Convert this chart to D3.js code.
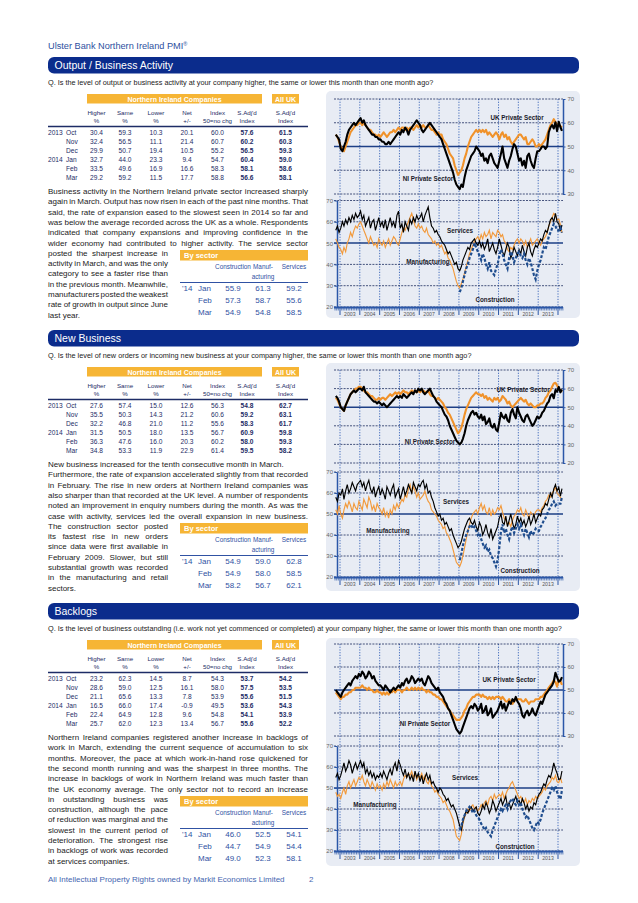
<!DOCTYPE html>
<html><head><meta charset="utf-8">
<script src="https://cdn.jsdelivr.net/npm/d3@7"></script>
<style>
body{margin:0;background:#fff;}
svg text{font-family:"Liberation Sans",Arial,Helvetica,sans-serif;}
</style></head>
<body><svg id="c" width="638" height="903"></svg>
<script>
// ---------------- DATA ----------------
const tableMonths = [["2013","Oct"],["","Nov"],["","Dec"],["2014","Jan"],["","Feb"],["","Mar"]];
const tableHeads = [["Higher","%"],["Same","%"],["Lower","%"],["Net","+/-"],["Index","50=no chg"],["S.Adj'd","Index"],["S.Adj'd","Index"]];
const sectorHeads = [["Construction",""],["Manuf-","acturing"],["Services",""]];
const sectorMonths = ["Jan","Feb","Mar"];
const yearLabels = ["2003","2004","2005","2006","2007","2008","2009","2010","2011","2012","2013"];

const table_output = [
 ["30.4","59.3","10.3","20.1","60.0","57.6","61.5"],
 ["32.4","56.5","11.1","21.4","60.7","60.2","60.3"],
 ["29.9","50.7","19.4","10.5","55.2","56.5","59.3"],
 ["32.7","44.0","23.3","9.4","54.7","60.4","59.0"],
 ["33.5","49.6","16.9","16.6","58.3","58.1","58.6"],
 ["29.2","59.2","11.5","17.7","58.8","56.6","58.1"]];
const table_newbiz = [
 ["27.6","57.4","15.0","12.6","56.3","54.8","62.7"],
 ["35.5","50.3","14.3","21.2","60.6","59.2","63.1"],
 ["32.2","46.8","21.0","11.2","55.6","58.3","61.7"],
 ["31.5","50.5","18.0","13.5","56.7","60.9","59.8"],
 ["36.3","47.6","16.0","20.3","60.2","58.0","59.3"],
 ["34.8","53.3","11.9","22.9","61.4","59.5","58.2"]];
const table_backlogs = [
 ["23.2","62.3","14.5","8.7","54.3","53.7","54.2"],
 ["28.6","59.0","12.5","16.1","58.0","57.5","53.5"],
 ["21.1","65.6","13.3","7.8","53.9","55.6","51.5"],
 ["16.5","66.0","17.4","-0.9","49.5","53.6","54.3"],
 ["22.4","64.9","12.8","9.6","54.8","54.1","53.9"],
 ["25.7","62.0","12.3","13.4","56.7","55.6","52.2"]];

const sector_output = [["55.9","61.3","59.2"],["57.3","58.7","55.6"],["54.9","54.8","58.5"]];
const sector_newbiz = [["54.9","59.0","62.8"],["54.9","58.0","58.5"],["58.2","56.7","62.1"]];
const sector_backlogs = [["46.0","52.5","54.1"],["44.7","54.9","54.4"],["49.0","52.3","58.1"]];

// monthly series, Oct 2002 - Mar 2014 (construction: Jan 2009 - Mar 2014)
const output_ni = [55,54,53,
 49,48,50,52,55,57,58,59,60,59,60,61,
 62,60,61,59,58,57,56,55,55,54,54,53,
 53,52,52,51,51,52,51,52,53,54,55,56,
 55,57,56,58,57,55,57,58,59,60,61,60,
 59,57,56,57,58,59,60,59,58,57,56,55,
 54,53,51,49,47,45,43,41,39,36,34,33,
 32,34,33,37,40,42,44,46,47,48,50,49,
 48,46,47,44,45,43,46,47,45,43,42,41,
 44,47,50,45,43,41,44,46,49,51,50,47,
 44,45,42,44,41,46,47,44,42,41,45,48,
 48,49,50,50,49,50,56,58,59,57.6,60.2,56.5,
 60.4,58.1,56.6];
const output_uk = [55,54,52,
 50,49,48,50,52,54,56,57,58,59,59,60,
 60,59,60,59,58,57,57,56,55,55,54,55,
 54,55,56,55,54,55,56,56,57,56,57,58,
 57,58,58,57,58,57,58,58,57,58,59,58,
 59,58,59,58,58,59,58,57,57,56,55,56,
 55,55,53,52,51,49,47,46,45,42,40,38,
 39,40,42,45,47,50,52,54,55,56,57,56,
 57,56,57,56,57,55,56,55,54,55,56,55,
 53,55,56,54,55,53,54,52,51,52,53,54,
 55,55,54,53,54,51,51,52,53,52,50,50,
 51,50,51,52,53,55,57,59,60,61.5,60.3,59.3,
 59.0,58.6,58.1];
const output_services = [56,58,55,
 57,60,58,61,59,62,60,63,61,64,62,63,
 65,61,63,58,60,62,57,60,61,56,59,62,
 58,60,57,61,56,59,62,58,60,57,63,65,
 57,59,55,60,58,56,61,59,62,60,63,61,
 62,64,60,63,65,67,62,58,57,55,56,54,
 53,51,50,49,47,45,46,44,42,40,41,38,
 37,39,42,44,46,48,47,50,51,52,50,49,
 51,48,50,47,49,52,46,48,50,47,45,48,
 52,49,46,44,47,50,48,43,45,48,46,44,
 47,45,49,46,44,48,50,46,44,47,49,48,
 50,52,51,54,56,55,58,61,62,60,64,60,
 59.2,55.6,58.5];
const output_manufacturing = [52,50,48,
 47,45,48,46,50,52,55,53,56,58,57,59,
 60,58,56,54,52,50,53,51,49,50,48,52,
 50,49,51,48,50,52,49,51,53,52,50,49,
 52,55,57,56,58,60,62,64,61,58,57,59,
 57,58,56,55,57,54,53,52,50,51,49,50,
 48,49,47,45,46,43,42,40,38,35,32,30,
 29,31,33,36,39,42,45,47,49,51,52,53,
 51,54,52,55,53,54,56,52,55,54,53,56,
 55,53,54,51,50,47,46,48,47,49,51,52,
 50,52,51,49,51,48,50,52,49,50,51,52,
 50,49,51,52,53,55,58,60,62,64,63,61,
 61.3,58.7,54.8];
const output_construction = [
 27,29,32,35,38,40,43,45,47,50,48,46,
 44,42,45,43,40,38,41,37,36,35,38,40,
 44,47,45,42,40,38,43,46,44,41,43,45,
 46,44,43,45,42,40,43,41,38,35,33,37,
 40,42,45,48,47,50,53,55,57,59,58,56,
 55.9,57.3,54.9];

const newbiz_ni = [56,55,53,
 50,49,48,51,53,55,57,58,59,58,59,60,
 60,59,61,58,57,56,55,54,53,53,52,53,
 52,51,52,51,50,51,52,53,54,55,56,55,
 56,55,57,56,55,56,57,58,57,59,58,60,
 59,60,58,57,58,59,60,58,56,55,53,52,
 51,50,48,46,45,43,40,38,36,34,32,31,
 30,31,33,36,40,43,45,47,48,46,47,45,
 44,46,43,45,41,42,44,40,39,41,38,37,
 42,47,45,44,46,43,42,47,49,46,44,50,
 47,45,43,42,45,46,44,42,40,41,43,45,
 44,45,47,48,50,52,53,56,57,54.8,59.2,58.3,
 60.9,58.0,59.5];
const newbiz_uk = [55,54,52,
 50,49,48,51,53,55,57,58,59,60,60,61,
 61,60,59,58,58,57,56,56,55,54,54,55,
 54,55,55,54,55,56,57,56,57,58,57,58,
 57,58,59,58,58,57,58,59,58,59,58,59,
 58,59,59,58,58,59,57,56,56,55,54,55,
 54,53,52,50,49,47,46,44,42,40,38,36,
 37,39,42,46,49,51,53,55,56,57,58,57,
 57,56,57,55,56,54,55,54,53,55,54,55,
 53,54,56,55,54,52,53,51,50,51,52,53,
 54,55,54,53,54,52,51,52,51,50,50,51,
 51,52,52,53,55,56,58,59,61,62.7,63.1,61.7,
 59.8,59.3,58.2];
const newbiz_services = [58,56,60,
 59,62,57,61,64,60,62,65,63,61,64,65,
 66,63,65,61,64,66,62,60,63,58,61,63,
 59,62,60,57,63,61,59,62,64,58,60,62,
 57,60,63,59,61,64,62,60,65,63,61,64,
 63,65,66,62,64,60,61,58,56,53,51,49,
 50,47,48,45,46,44,42,43,40,38,36,34,
 35,37,40,43,45,47,48,46,45,47,44,42,
 46,44,40,42,45,41,39,43,38,40,42,44,
 48,50,46,45,49,44,47,50,46,43,45,49,
 46,48,45,47,44,46,49,45,47,50,46,48,
 50,49,52,53,55,54,57,60,58,62,64,61,
 62.8,58.5,62.1];
const newbiz_manufacturing = [52,50,54,
 50,48,52,55,53,56,54,51,55,53,52,56,
 54,52,57,55,53,58,56,52,54,51,55,53,
 52,50,53,49,51,48,52,50,54,52,55,53,
 55,57,56,59,58,62,64,60,63,61,58,60,
 57,58,59,61,58,56,55,52,51,50,49,47,
 46,45,43,44,41,40,38,36,33,30,27,26,
 25,27,30,34,38,42,45,48,50,51,52,50,
 53,55,52,54,51,50,53,49,52,50,51,53,
 52,54,51,48,47,45,46,44,47,49,50,52,
 51,53,50,49,52,50,48,51,50,49,51,52,
 52,51,53,54,56,57,59,58,60,61,63,60,
 59.0,58.0,56.7];
const newbiz_construction = [
 28,31,35,38,40,42,44,45,43,44,42,40,
 41,38,36,34,35,32,33,30,29,27,25,28,
 34,42,45,41,43,40,38,42,44,41,43,45,
 43,45,42,40,43,41,39,42,40,41,43,42,
 42,44,45,47,48,50,52,53,55,56,54,55,
 54.9,54.9,58.2];

const backlogs_ni = [50,49,48,
 47,49,50,51,52,53,52,54,55,56,55,57,
 56,58,57,55,56,58,57,55,56,54,53,52,
 52,51,50,52,51,50,49,50,51,50,51,52,
 51,53,52,54,55,53,54,56,55,53,54,55,
 54,55,53,52,54,56,55,53,52,51,50,51,
 49,48,47,45,44,42,41,39,37,35,33,32,
 31,32,34,36,38,40,42,43,42,44,43,41,
 42,44,40,41,43,39,40,42,38,39,40,41,
 43,45,42,44,41,43,45,44,46,45,47,45,
 44,42,39,38,40,41,39,40,42,40,39,41,
 43,45,44,46,48,49,50,51,52,53.7,57.5,55.6,
 53.6,54.1,55.6];
const backlogs_uk = [49,48,47,
 46,47,47,48,48,49,49,50,50,51,51,51,
 51,52,51,51,50,51,50,50,49,49,50,49,
 49,48,49,48,49,48,49,49,50,49,50,50,
 50,49,50,50,51,50,50,51,50,51,50,51,
 50,51,50,50,49,50,49,49,48,48,47,47,
 46,46,45,44,43,42,41,40,39,38,37,37,
 37,38,39,41,42,44,45,46,47,47,48,48,
 48,47,48,47,47,46,47,46,47,46,47,47,
 47,46,47,46,45,45,46,45,44,45,46,46,
 46,46,45,45,46,45,44,45,45,45,46,46,
 46,47,47,48,49,50,51,52,53,54.2,53.5,51.5,
 54.3,53.9,52.2];
const backlogs_services = [55,57,54,
 56,59,62,58,60,63,61,57,60,62,59,61,
 63,60,62,57,59,56,58,55,57,54,56,55,
 57,55,58,56,54,57,59,56,60,62,58,63,
 61,58,56,59,55,57,54,56,53,58,55,57,
 53,56,52,55,57,54,56,52,53,51,50,48,
 50,49,47,46,44,45,43,41,42,40,38,35,
 32,30,34,37,39,38,40,41,39,40,41,38,
 37,39,42,40,43,41,38,40,44,42,39,41,
 43,45,42,44,46,41,43,40,42,44,46,43,
 44,42,45,43,40,42,39,41,40,43,42,45,
 47,48,50,52,51,54,56,55,58,62,59,57,
 54.1,54.4,58.1];
const backlogs_manufacturing = [48,46,47,
 45,48,50,47,51,53,50,52,54,51,53,55,
 54,56,53,51,54,52,50,53,51,49,52,50,
 51,49,52,50,53,51,54,52,50,53,51,52,
 53,51,54,56,55,57,56,58,55,57,54,56,
 55,57,54,56,53,52,54,51,50,48,49,47,
 46,45,43,44,42,40,39,37,35,31,27,26,
 25,28,33,36,38,40,39,41,42,40,41,39,
 40,42,41,43,44,42,45,46,44,47,45,46,
 47,46,48,45,47,49,50,52,53,51,49,47,
 45,46,44,43,45,42,44,43,45,44,46,45,
 46,47,48,50,49,51,52,53,55,54,56,53,
 52.5,54.9,52.3];
const backlogs_construction = [
 30,32,35,37,39,40,41,40,38,39,37,36,
 35,33,32,30,31,29,28,27,30,32,34,36,
 38,40,39,41,42,40,43,44,45,43,42,44,
 42,43,40,38,36,37,35,33,31,30,32,34,
 33,35,38,40,42,44,46,48,50,49,51,48,
 46.0,44.7,49.0];

// ---------------- TEXT ----------------
const para_output = [
 ["Business activity in the Northern Ireland private sector increased sharply",1],
 ["again in March. Output has now risen in each of the past nine months. That",1],
 ["said, the rate of expansion eased to the slowest seen in 2014 so far and",1],
 ["was below the average recorded across the UK as a whole. Respondents",1],
 ["indicated that company expansions and improving confidence in the",1],
 ["wider economy had contributed to higher activity. The service sector",1],
 ["posted the sharpest increase in",2],
 ["activity in March, and was the only",2],
 ["category to see a faster rise than",2],
 ["in the previous month. Meanwhile,",2],
 ["manufacturers posted the weakest",2],
 ["rate of growth in output since June",2],
 ["last year.",0]];
const para_newbiz = [
 ["New business increased for the tenth consecutive month in March.",0],
 ["Furthermore, the rate of expansion accelerated slightly from that recorded",1],
 ["in February. The rise in new orders at Northern Ireland companies was",1],
 ["also sharper than that recorded at the UK level. A number of respondents",1],
 ["noted an improvement in enquiry numbers during the month. As was the",1],
 ["case with activity, services led the overall expansion in new business.",1],
 ["The construction sector posted",2],
 ["its fastest rise in new orders",2],
 ["since data were first available in",2],
 ["February 2009. Slower, but still",2],
 ["substantial growth was recorded",2],
 ["in the manufacturing and retail",2],
 ["sectors.",0]];
const para_backlogs = [
 ["Northern Ireland companies registered another increase in backlogs of",1],
 ["work in March, extending the current sequence of accumulation to six",1],
 ["months. Moreover, the pace at which work-in-hand rose quickened for",1],
 ["the second month running and was the sharpest in three months. The",1],
 ["increase in backlogs of work in Northern Ireland was much faster than",1],
 ["the UK economy average. The only sector not to record an increase",1],
 ["in outstanding business was",2],
 ["construction, although the pace",2],
 ["of reduction was marginal and the",2],
 ["slowest in the current period of",2],
 ["deterioration. The strongest rise",2],
 ["in backlogs of work was recorded",2],
 ["at services companies.",0]];

// ---------------- LAYOUT ----------------
const C = {
  bar:"#0b2c8c", orange:"#f6b535", title:"#2d4f9e", tableText:"#1d2c66",
  sectorText:"#3052a3", body:"#1b1b1b", panel:"#e8ecf4", grid:"#1c2c5e",
  vgrid:"#2f5cb4", axis:"#2b57a8", black:"#000", ukOrange:"#f0922a",
  mfgOrange:"#f29a3c", constr:"#1f4d8e", footer:"#4466b0"
};
const svg = d3.select("#c");
const x = d3.scaleTime().domain([new Date(2003,0,1), new Date(2014,0,1)]).range([340, 558]);
const monthsFrom = (y, m, n) => d3.range(n).map(i => new Date(y, m + i, 15));

const t0 = svg.append("text").attr("x",48).attr("y",49).attr("font-size",9.2).attr("fill",C.title)
  .text("Ulster Bank Northern Ireland PMI");
t0.append("tspan").attr("font-size",5.5).attr("dy",-3.5).text("®");

function justifiedLine(g, str, x0, y, width, justify, size, color) {
  const t = g.append("text").attr("y", y).attr("font-size", size).attr("fill", color);
  if (!justify) { t.attr("x", x0).text(str); return; }
  const words = str.split(" ");
  const spans = words.map(w => t.append("tspan").text(w));
  const widths = spans.map(s => s.node().getComputedTextLength());
  const gap = (width - d3.sum(widths)) / (words.length - 1);
  let cx = x0;
  spans.forEach((s, i) => { s.attr("x", cx); cx += widths[i] + gap; });
}

function section(cfg) {
  const oy = cfg.oy;
  const g = svg.append("g");
  g.append("rect").attr("x",48).attr("y",oy+57).attr("width",531).attr("height",16.5).attr("rx",6).attr("fill",C.bar);
  g.append("text").attr("x",54.5).attr("y",oy+69.3).attr("font-size",10.5).attr("fill","#fff").text(cfg.title);
  g.append("text").attr("x",48).attr("y",oy+85).attr("font-size",7.3).attr("fill","#222").text(cfg.question);

  g.append("rect").attr("x",326).attr("y",oy+cfg.panel[0]).attr("width",254).attr("height",cfg.panel[1]-cfg.panel[0]).attr("rx",5).attr("fill",C.panel);

  g.append("rect").attr("x",87).attr("y",oy+94).attr("width",175).attr("height",9.5).attr("fill",C.orange);
  g.append("rect").attr("x",272).attr("y",oy+94).attr("width",27).attr("height",9.5).attr("fill",C.orange);
  g.append("text").attr("x",174.5).attr("y",oy+101.5).attr("text-anchor","middle").attr("font-size",7).attr("font-weight","bold").attr("fill","#fff").text("Northern Ireland Companies");
  g.append("text").attr("x",285.5).attr("y",oy+101.5).attr("text-anchor","middle").attr("font-size",7).attr("font-weight","bold").attr("fill","#fff").text("All UK");
  const colX = [96.5, 125, 156, 187, 217.5, 247, 285.5];
  tableHeads.forEach((h, i) => {
    g.append("text").attr("x",colX[i]).attr("y",oy+115).attr("text-anchor","middle").attr("font-size",6.2).attr("fill",C.tableText).text(h[0]);
    g.append("text").attr("x",colX[i]).attr("y",oy+123).attr("text-anchor","middle").attr("font-size",6.2).attr("fill",C.tableText).text(h[1]);
  });
  g.append("line").attr("x1",48).attr("x2",308).attr("y1",oy+126.5).attr("y2",oy+126.5).attr("stroke",C.tableText).attr("stroke-width",1.3);
  cfg.table.forEach((row, r) => {
    const yy = oy + 134.5 + r * 9;
    g.append("text").attr("x",48).attr("y",yy).attr("font-size",6.6).attr("fill",C.tableText).text(tableMonths[r][0]);
    g.append("text").attr("x",66).attr("y",yy).attr("font-size",6.6).attr("fill",C.tableText).text(tableMonths[r][1]);
    row.forEach((v, i) => {
      g.append("text").attr("x",colX[i]).attr("y",yy).attr("text-anchor","middle").attr("font-size",6.6)
        .attr("font-weight", i >= 5 ? "bold" : "normal").attr("fill",C.tableText).text(v);
    });
  });

  cfg.para.forEach((ln, i) => {
    const w = ln[1] === 2 ? 120 : 260;
    justifiedLine(g, ln[0], 48, oy + 194 + i * 10.3, w, ln[1] > 0, 8, C.body);
  });

  g.append("rect").attr("x",180).attr("y",oy+250).attr("width",128).attr("height",10.5).attr("fill",C.orange);
  g.append("text").attr("x",184).attr("y",oy+258).attr("font-size",7.5).attr("font-weight","bold").attr("fill","#fff").text("By sector");
  const sx = [233, 263, 294];
  sectorHeads.forEach((h, i) => {
    g.append("text").attr("x",sx[i]).attr("y",oy+269).attr("text-anchor","middle").attr("font-size",6.4).attr("fill",C.sectorText).text(h[0]);
    if (h[1]) g.append("text").attr("x",sx[i]).attr("y",oy+279).attr("text-anchor","middle").attr("font-size",6.4).attr("fill",C.sectorText).text(h[1]);
  });
  g.append("line").attr("x1",180).attr("x2",308).attr("y1",oy+282.5).attr("y2",oy+282.5).attr("stroke",C.sectorText).attr("stroke-width",1.2);
  cfg.sector.forEach((row, r) => {
    const yy = oy + 290.5 + r * 12;
    if (r === 0) g.append("text").attr("x",182).attr("y",yy).attr("font-size",8).attr("fill",C.sectorText).text("'14");
    g.append("text").attr("x",198).attr("y",yy).attr("font-size",8).attr("fill",C.sectorText).text(sectorMonths[r]);
    row.forEach((v, i) => g.append("text").attr("x",sx[i]).attr("y",yy).attr("text-anchor","middle").attr("font-size",8).attr("fill",C.sectorText).text(v));
  });

  const yt = d3.scaleLinear().domain(cfg.topDomain).range([oy+cfg.topRange[0], oy+cfg.topRange[1]]);
  const yb = d3.scaleLinear().domain([20,70]).range([oy+cfg.botRange[0], oy+cfg.botRange[1]]);
  const gx0 = 334, gx1 = 563;
  const cg = g.append("g");
  const yrs = d3.range(2003, 2015).map(yr => new Date(yr,0,1));
  yrs.forEach(d => {
    cg.append("line").attr("x1",x(d)).attr("x2",x(d)).attr("y1",yt(cfg.topDomain[1])).attr("y2",yb(20))
      .attr("stroke",C.vgrid).attr("stroke-width",0.9).attr("stroke-dasharray","1.2,1.5");
  });
  function hgrid(scale, ticks) {
    ticks.forEach(v => {
      const solid = v === 50;
      cg.append("line").attr("x1",gx0).attr("x2",gx1).attr("y1",scale(v)).attr("y2",scale(v))
        .attr("stroke", solid ? "#1d3f86" : C.grid).attr("stroke-width", solid ? 1.5 : 0.8)
        .attr("stroke-dasharray", solid ? null : "2,1.2");
    });
  }
  hgrid(yt, d3.range(cfg.topDomain[0], cfg.topDomain[1] + 1, 10));
  hgrid(yb, d3.range(20, 71, 10));

  const ra = cg.append("g").attr("transform",`translate(${gx1},0)`)
    .call(d3.axisRight(yt).tickValues(d3.range(cfg.topDomain[0], cfg.topDomain[1] + 1, 10)).tickSize(2.5).tickPadding(2).tickSizeOuter(0));
  ra.select(".domain").attr("stroke",C.axis).attr("stroke-width",1.5);
  ra.selectAll(".tick line").attr("stroke",C.axis);
  ra.selectAll(".tick text").attr("font-size",6).attr("fill","#666").attr("font-family",'"Liberation Sans",Arial,sans-serif');
  const la = cg.append("g").attr("transform",`translate(${gx0+3},0)`)
    .call(d3.axisLeft(yb).tickValues(d3.range(20,71,10)).tickSize(2.5).tickPadding(1.5).tickSizeOuter(0));
  la.select(".domain").attr("stroke",C.axis).attr("stroke-width",1.5);
  la.selectAll(".tick line").attr("stroke",C.axis);
  la.selectAll(".tick text").attr("font-size",6).attr("fill","#666").attr("font-family",'"Liberation Sans",Arial,sans-serif');
  const by = yb(20);
  const monthTicks = d3.timeMonth.range(new Date(2002,9,1), new Date(2014,3,2));
  cg.append("line").attr("x1",gx0).attr("x2",gx1).attr("y1",by+0.5).attr("y2",by+0.5).attr("stroke",C.axis).attr("stroke-width",2);
  monthTicks.forEach(d => {
    const yearStart = d.getMonth() === 0;
    cg.append("line").attr("x1",x(d)).attr("x2",x(d)).attr("y1",by).attr("y2",by + (yearStart ? 8 : 3.5))
      .attr("stroke",C.axis).attr("stroke-width", yearStart ? 1 : 0.7);
  });
  yearLabels.forEach((lab, i) => {
    cg.append("text").attr("x",x(new Date(2003+i,6,1))).attr("y",by+8.5).attr("text-anchor","middle")
      .attr("font-size",5.2).attr("fill","#555").text(lab);
  });

  const line = (scale) => d3.line().defined(d => d.v != null).x(d => x(d.d)).y(d => scale(d.v));
  const mk = (vals, y0, m0) => { const ds = monthsFrom(y0, m0, vals.length); return vals.map((v, i) => ({d: ds[i], v})); };
  cg.append("path").datum(mk(cfg.uk, 2002, 9)).attr("d", line(yt)).attr("fill","none").attr("stroke",C.ukOrange).attr("stroke-width",2.1).attr("stroke-linejoin","round");
  cg.append("path").datum(mk(cfg.ni, 2002, 9)).attr("d", line(yt)).attr("fill","none").attr("stroke",C.black).attr("stroke-width",2.1).attr("stroke-linejoin","round");
  cg.append("path").datum(mk(cfg.mfg, 2002, 9)).attr("d", line(yb)).attr("fill","none").attr("stroke",C.mfgOrange).attr("stroke-width",1.15);
  cg.append("path").datum(mk(cfg.svc, 2002, 9)).attr("d", line(yb)).attr("fill","none").attr("stroke",C.black).attr("stroke-width",1.15);
  cg.append("path").datum(mk(cfg.con, 2009, 0)).attr("d", line(yb)).attr("fill","none").attr("stroke",C.constr).attr("stroke-width",2.2).attr("stroke-dasharray","3,1.8");

  cfg.labels.forEach(l => {
    cg.append("text").attr("x",l[1]).attr("y",oy+l[2]).attr("text-anchor","middle").attr("font-size",6.3)
      .attr("font-weight","bold").attr("fill","#1a1a2a").text(l[0]);
  });
}

section({oy:0, title:"Output / Business Activity",
  question:"Q. Is the level of output or business activity at your company higher, the same or lower this month than one month ago?",
  table:table_output, para:para_output, sector:sector_output, panel:[91,318],
  topDomain:[30,70], topRange:[194,99], botRange:[307,200.5],
  ni:output_ni, uk:output_uk, svc:output_services, mfg:output_manufacturing, con:output_construction,
  labels:[["UK Private Sector",517,120],["NI Private Sector",428,181],["Services",460,233],["Manufacturing",428,264],["Construction",495,302]]});
section({oy:273, title:"New Business",
  question:"Q. Is the level of new orders or incoming new business at your company higher, the same or lower this month than one month ago?",
  table:table_newbiz, para:para_newbiz, sector:sector_newbiz, panel:[90,318],
  topDomain:[20,70], topRange:[190,97], botRange:[304,199],
  ni:newbiz_ni, uk:newbiz_uk, svc:newbiz_services, mfg:newbiz_manufacturing, con:newbiz_construction,
  labels:[["UK Private Sector",523,118.5],["NI Private Sector",430,171],["Services",456,231],["Manufacturing",388,260],["Construction",520,300]]});
section({oy:546, title:"Backlogs",
  question:"Q. Is the level of business outstanding (i.e. work not yet commenced or completed) at your company higher, the same or lower this month than one month ago?",
  table:table_backlogs, para:para_backlogs, sector:sector_backlogs, panel:[92,320],
  topDomain:[30,70], topRange:[190,98], botRange:[305,200],
  ni:backlogs_ni, uk:backlogs_uk, svc:backlogs_services, mfg:backlogs_manufacturing, con:backlogs_construction,
  labels:[["UK Private Sector",509,135.5],["NI Private Sector",425,179.5],["Services",465,233.5],["Manufacturing",375,261],["Construction",515,303]]});

svg.append("text").attr("x",48).attr("y",882).attr("font-size",8).attr("fill",C.footer).text("All Intellectual Property Rights owned by Markit Economics Limited");
svg.append("text").attr("x",309).attr("y",882).attr("font-size",8).attr("fill",C.footer).text("2");
</script>
</body></html>
